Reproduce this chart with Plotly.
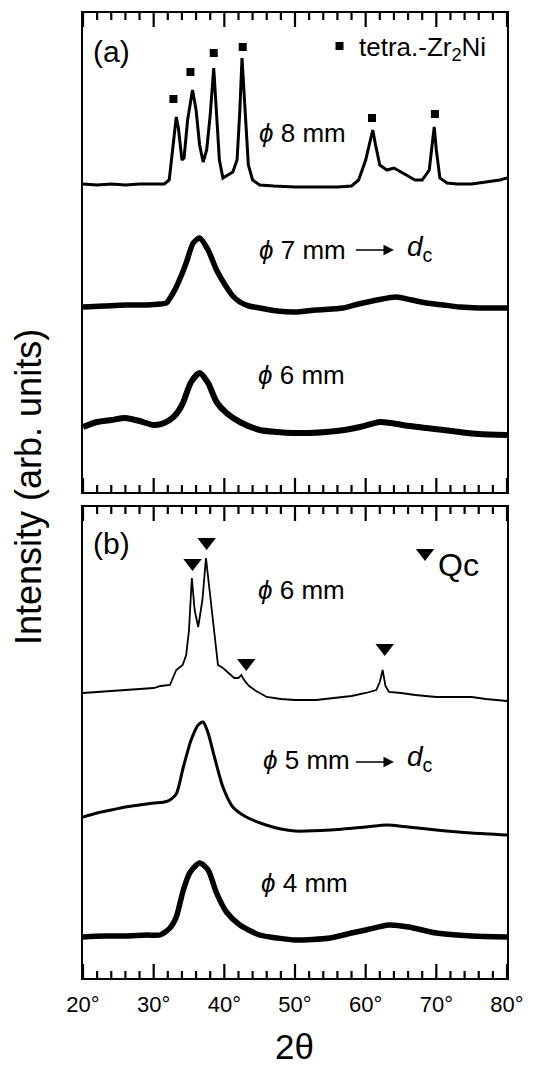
import plotly.graph_objects as go

FONT = "Liberation Sans, Arial, Helvetica, sans-serif"

# ---------------- Panel (a) data (x = 2theta in degrees, y = intensity, arb. units, offset stacked) -------------
a8_x = [20, 22, 24, 26, 28, 30, 31.5, 32.2, 32.7, 33.2, 33.5, 34.0, 34.3, 34.8, 35.5, 36.0, 36.5, 37.0, 37.5,
        38.0, 38.5, 38.9, 39.3, 39.8, 40.5, 41.2, 41.8, 42.2, 42.5, 42.9, 43.4, 44.0, 45, 47, 50, 53, 56, 58,
        59, 60, 60.6, 61.0, 61.4, 62, 63, 64, 65, 66, 67, 68, 69.0, 69.4, 69.7, 70.0, 70.5, 71.5, 73, 75, 77,
        79, 80]
a8_y = [308, 307, 308, 307, 308, 308, 308, 312, 342, 375, 364, 332, 334, 372, 402, 382, 347, 330, 342,
        377, 424, 382, 332, 314, 317, 320, 332, 382, 434, 382, 327, 312, 307, 306, 305, 305, 305, 306,
        312, 332, 352, 362, 347, 327, 322, 324, 320, 316, 312, 312, 322, 347, 365, 342, 314, 309, 308, 308, 310,
        312, 314]

a7_x = [20, 23, 26, 29, 31, 31.8, 32.5, 33.2, 34.0, 34.6, 35.6, 36.5, 37.7, 38.9, 40.3, 41.2, 42.2, 43.5,
        45, 47.5, 50, 53, 56.8, 59, 61.6, 64.3, 66.5, 68.6, 71, 73.3, 76, 80]
a7_y = [185, 186, 187, 187, 188, 189, 196, 205, 218, 229, 249, 254, 242, 222, 205, 196, 190, 186,
        184, 181, 180, 182, 184, 188, 192, 195, 192, 189, 187, 185, 184, 184]

a6_x = [20, 22, 24, 26, 28, 30, 31.5, 32.8, 33.6, 34.2, 35.3, 36.5, 37.7, 38.9, 40.3, 42.2, 45, 47.5,
        49.7, 52, 54.4, 57, 59.2, 62, 63.5, 65.2, 68.6, 71, 73.3, 76, 80]
a6_y = [65, 70, 72, 74, 71, 67, 69, 75, 82, 90, 110, 119, 109, 90, 79, 70, 62, 60,
        59, 59, 60, 62, 65, 70, 69, 67, 64, 62, 60, 58, 57]

a_peak_x = [32.8, 35.2, 38.5, 42.6, 60.9, 69.8]
a_peak_y = [393, 420, 439, 445, 374, 378]

# ---------------- Panel (b) data -------------
b6_x = [20, 22, 25, 28, 30, 31, 32.3, 33.2, 34.1, 34.6, 35.0, 35.4, 35.8, 36.3, 36.9, 37.4, 37.9, 38.4,
        39.1, 39.8, 40.6, 41.4, 42.0, 42.4, 42.8, 43.5, 44.5, 46, 48, 50, 53, 56, 58, 60, 61.5, 62.0,
        62.4, 62.8, 63.3, 65, 67, 70, 73, 75, 77, 80]
b6_y = [285, 286, 288, 289, 290, 292, 293, 308, 313, 323, 348, 400, 368, 351, 378, 420, 388, 355,
        313, 310, 305, 300, 300, 303, 298, 292, 287, 281, 279, 278, 278, 280, 282, 285, 288, 296,
        308, 292, 286, 285, 283, 281, 281, 281, 279, 277]

b5_x = [20, 22, 24, 26, 28, 30, 31.5, 32.3, 33.2, 34.2, 35.3, 36.3, 37.0, 37.7, 38.6, 39.8, 41.2, 43.1,
        45.9, 48, 50, 55, 60, 63, 66, 70, 75, 80]
b5_y = [161, 165, 168, 171, 173, 175, 176, 178, 184, 211, 238, 253, 256, 245, 221, 191, 171, 161,
        153, 149, 147, 148, 151, 153, 151, 148, 145, 143]

b4_x = [20, 23, 26, 29, 30.9, 32.3, 33.2, 34.2, 35.1, 36.5, 37.7, 38.9, 40.3, 42.2, 45, 47.5, 50, 55,
        58, 60, 63.3, 66.1, 70, 75, 80]
b4_y = [41, 42, 42, 43, 43, 50, 61, 88, 105, 115, 108, 85, 66, 53, 43, 40, 38, 40,
        45, 48, 53, 51, 45, 42, 41]

b_peak_x = [35.5, 37.5, 43.1, 62.7]
b_peak_y = [415, 436, 315, 330]

x_min, x_max = 20, 80
x_tick_step, x_minor_step = 10, 2

# ---------------- Figure -------------
W, H = 533, 1066
L, R, T, B = 83, 26, 13, 88
plot_h = H - T - B  # 965
h_a, h_b = 479, 471
dom_b = [0, h_b / plot_h]
dom_a = [(978 - 492) / plot_h, 1]

fig = go.Figure()
blk = "black"

def curve(x, y, w, ya, shape="linear"):
    fig.add_trace(go.Scatter(x=x, y=y, mode="lines", xaxis="x" if ya == "y" else "x2", yaxis=ya,
                             line=dict(color=blk, width=w, shape=shape, smoothing=0.7)))

def marks(x, y, sym, size, ya):
    fig.add_trace(go.Scatter(x=x, y=y, mode="markers", xaxis="x" if ya == "y" else "x2", yaxis=ya,
                             marker=dict(symbol=sym, size=size, color=blk, line=dict(width=0))))

curve(a8_x, a8_y, 3, "y")
curve(a7_x, a7_y, 5.5, "y", "spline")
curve(a6_x, a6_y, 6, "y", "spline")
marks(a_peak_x, a_peak_y, "square", 8, "y")
marks([56.3], [446], "square", 8, "y")

curve(b6_x, b6_y, 1.8, "y2")
curve(b5_x, b5_y, 3, "y2", "spline")
curve(b4_x, b4_y, 5.5, "y2", "spline")
marks(b_peak_x, b_peak_y, "triangle-down", 16, "y2")
marks([68.4], [425], "triangle-down", 16, "y2")

def xaxis_cfg(anchor, labels):
    return dict(range=[x_min, x_max], showline=True, linecolor=blk, linewidth=1.5, mirror=True,
                ticks="", tickmode="linear", tick0=x_min, dtick=x_tick_step, ticksuffix="°",
                ticklabelstandoff=6,
                showgrid=False, zeroline=False, showticklabels=labels,
                tickfont=dict(family=FONT, size=22, color=blk), anchor=anchor, domain=[0, 1])

ycommon = dict(showline=True, linecolor=blk, linewidth=1.5, mirror=True, ticks="",
               showticklabels=False, showgrid=False, zeroline=False)

fig.update_layout(
    template="none",
    width=W, height=H, margin=dict(l=L, r=R, t=T, b=B),
    paper_bgcolor="white", plot_bgcolor="white", showlegend=False,
    xaxis=xaxis_cfg("y", False),
    yaxis=dict(ycommon, anchor="x", domain=dom_a, range=[0, h_a]),
    xaxis2=xaxis_cfg("y2", True),
    yaxis2=dict(ycommon, anchor="x2", domain=dom_b, range=[0, h_b]),
)

# inside tick marks (major every 10°, minor every 2°) on top and bottom of both frames
shapes = []
MAJ, MIN = 14, 7
for xr, yr, ph in [("x", "y domain", h_a), ("x2", "y2 domain", h_b)]:
    for v in range(x_min, x_max + 1, x_minor_step):
        ln = MAJ if (v - x_min) % x_tick_step == 0 else MIN
        f = ln / ph
        for y0, y1 in [(0, f), (1, 1 - f)]:
            shapes.append(dict(type="line", xref=xr, yref=yr, x0=v, x1=v, y0=y0, y1=y1,
                               line=dict(color=blk, width=2.2), layer="above"))
fig.update_layout(shapes=shapes)

ann = []
def txt(text, x, y, yref, size, xanchor="left", **kw):
    ann.append(dict(text=text, x=x, y=y, xref="x" if yref == "y" else "x2", yref=yref,
                    showarrow=False, xanchor=xanchor, yanchor="middle",
                    font=dict(family=FONT, size=size, color=blk), **kw))

PHI = "<i>ϕ</i>"
# panel (a)
txt("(a)", 21.2, 441, "y", 30)
txt("tetra.-Zr<sub>2</sub>Ni", 58.8, 444, "y", 26)
txt(PHI + " 8 mm", 44.6, 359, "y", 26)
txt(PHI + " 7 mm", 44.6, 242, "y", 26)
txt("<i>d</i><sub>c</sub>", 65.6, 244, "y", 28)
txt(PHI + " 6 mm", 44.5, 117, "y", 26)
# panel (b)
txt("(b)", 21.2, 435, "y2", 30)
txt("Qc", 70.0, 413, "y2", 32)
txt(PHI + " 6 mm", 44.5, 388, "y2", 26)
txt(PHI + " 5 mm", 45.2, 218, "y2", 26)
txt("<i>d</i><sub>c</sub>", 65.6, 220, "y2", 28)
txt(PHI + " 4 mm", 44.9, 95, "y2", 26)

# arrows
for xr, yr, yv in [("x", "y", 242), ("x2", "y2", 216)]:
    ann.append(dict(x=64.0, y=yv, ax=58.4, ay=yv, xref=xr, yref=yr, axref=xr, ayref=yr,
                    text="", showarrow=True, arrowhead=2, arrowsize=1.3, arrowwidth=1.6,
                    arrowcolor=blk))

# axis titles
ann.append(dict(text="Intensity (arb. units)", x=(28 - L) / 424, y=(978 - 487) / plot_h,
                xref="paper", yref="paper", showarrow=False, textangle=-90,
                xanchor="center", yanchor="middle", font=dict(family=FONT, size=36, color=blk)))
ann.append(dict(text="2θ", x=(294 - L) / 424, y=(978 - 1046) / plot_h,
                xref="paper", yref="paper", showarrow=False,
                xanchor="center", yanchor="middle", font=dict(family=FONT, size=35, color=blk)))

fig.update_layout(annotations=ann)
fig.write_html("out.html")
